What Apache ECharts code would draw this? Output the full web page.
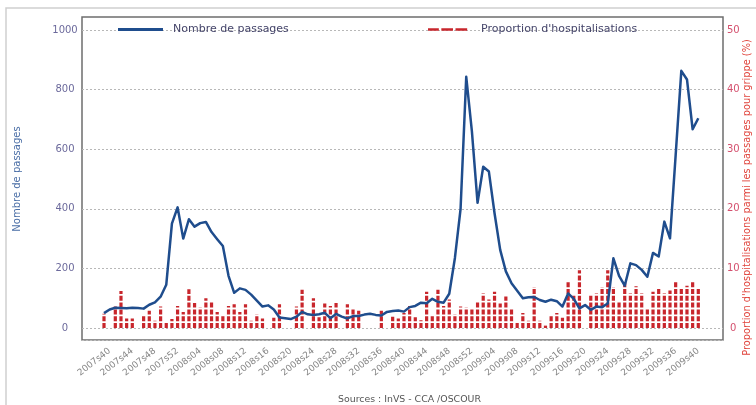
<!DOCTYPE html>
<html>
<head>
<meta charset="utf-8">
<script src="https://cdn.jsdelivr.net/npm/echarts@6/dist/echarts.min.js"></script>
<style>
  html, body { margin: 0; padding: 0; background: #fff; overflow: hidden; }
  #chart { width: 756px; height: 405px; }
</style>
</head>
<body>
<div id="chart"></div>
<script>
// Weekly emergency visits for influenza (OSCOUR network), 2007s39 – 2009s40
const weekSpans = [
  { year: 2007, from: 39, to: 52 },
  { year: 2008, from: 1, to: 52 },
  { year: 2009, from: 1, to: 40 }
];
const weeks = [];
weekSpans.forEach(s => {
  for (let w = s.from; w <= s.to; w++) {
    weeks.push(s.year + 's' + (w < 10 ? '0' + w : w));
  }
});

// Nombre de passages (left axis)
const passages = [
  50, 62, 68, 67, 66, 68, 67, 65, 78, 86,
  105, 145, 350, 405, 300, 365, 340, 352, 356, 322,
  298, 275, 175, 118, 133, 128, 112, 92, 72, 76,
  62, 35, 33, 30, 38, 54, 46, 44, 46, 51,
  33, 47, 38, 32, 40, 40, 45, 48, 44, 42,
  54, 57, 59, 55, 70, 74, 85, 83, 98, 88,
  85, 115, 235, 400, 843, 660, 420, 541, 525, 385,
  262, 190, 150, 125, 100, 103, 104, 94, 88, 95,
  90, 72, 116, 98, 66, 77, 61, 72, 70, 82,
  234, 175, 142, 217, 211, 195, 172, 252, 240, 357,
  301, 580, 863, 834, 667, 704
];

// Proportion d'hospitalisations parmi les passages (%), right axis
const hospit = [
  2.4, 0, 3.6, 6.2, 1.6, 1.6, 0, 2.2, 2.9, 1.2,
  3.6, 1.0, 1.5, 3.7, 2.7, 6.5, 4.2, 3.5, 5.0, 4.3,
  2.7, 2.0, 3.7, 4.0, 2.7, 4.0, 1.2, 2.3, 1.6, 0,
  1.7, 4.0, 0, 0, 3.6, 6.4, 0, 5.0, 1.8, 4.1,
  3.7, 4.2, 0, 4.0, 3.1, 2.9, 0, 0, 0, 2.9,
  0, 1.9, 1.6, 2.5, 3.7, 1.8, 1.3, 6.1, 2.2, 6.4,
  3.7, 4.8, 2.3, 3.6, 3.5, 3.3, 4.4, 5.8, 4.8, 6.1,
  4.1, 5.3, 3.1, 1.1, 2.5, 1.2, 6.9, 1.2, 0.4, 2.2,
  2.5, 1.7, 7.8, 5.5, 9.7, 0, 5.6, 5.8, 6.9, 9.7,
  6.9, 4.4, 7.8, 5.8, 7.0, 5.8, 3.1, 6.1, 6.7, 5.8,
  6.3, 7.7, 6.8, 7.1, 7.8, 6.8
];

const leftTicks = { min: 0, max: 1000, interval: 200 };
const rightTicks = { min: 0, max: 50, interval: 10 };

const FONT = 'DejaVu Sans';
const BLUE = '#1f4d8d';
const RED = '#c8262c';

const chart = echarts.init(document.getElementById('chart'), null, { renderer: 'canvas', width: 756, height: 405 });

chart.setOption({
  animation: false,
  backgroundColor: '#ffffff',
  textStyle: { fontFamily: FONT },
  title: {
    text: 'Sources : InVS - CCA /OSCOUR',
    left: 333, top: 390,
    textStyle: { fontFamily: FONT, fontSize: 9.4, fontWeight: 'normal', color: '#555' }
  },
  graphic: [{
    type: 'rect', silent: true, z: -10,
    shape: { x: 6, y: 8, width: 800, height: 500 },
    style: { fill: 'none', stroke: '#cfcfcf', lineWidth: 1.5 }
  }],
  legend: [{
    left: 113, top: 19,
    itemWidth: 45, itemHeight: 3,
    data: [{ name: 'Nombre de passages', icon: 'path://M0,0H45V3H0Z' }],
    textStyle: { fontFamily: FONT, fontSize: 11, color: '#45456a', padding: [0, 0, 0, 5] }
  }, {
    left: 423, top: 19,
    itemWidth: 47, itemHeight: 2.5,
    data: [{ name: "Proportion d'hospitalisations", icon: 'path://M0,0H13V3H0Z M16,0H30V3H16Z M33,0H47V3H33Z' }],
    textStyle: { fontFamily: FONT, fontSize: 11, color: '#45456a', padding: [0, 0, 0, 5] }
  }],
  grid: [
    { left: 104, right: 57.7, top: 30, bottom: 77, outerBoundsMode: 'none' },   // data
    { left: 82, right: 33, top: 30, bottom: 77, outerBoundsMode: 'none' },      // horizontal guides
    { left: 82, right: 33, top: 17, bottom: 65, outerBoundsMode: 'none',        // frame
      show: true, borderColor: '#6e6e6e', borderWidth: 1.5 }
  ],
  xAxis: [{
    gridIndex: 0, type: 'category', data: weeks, boundaryGap: false,
    offset: 17,
    axisLine: { show: false }, axisTick: { show: false }, splitLine: { show: false },
    axisLabel: {
      interval: (i) => i % 4 === 1,
      rotate: 38, margin: 5,
      fontFamily: FONT, fontSize: 9, color: '#858585'
    }
  }, {
    gridIndex: 1, type: 'value', show: false
  }, {
    gridIndex: 2, type: 'value', min: 0, max: 1, offset: 5,
    axisLine: { show: true, lineStyle: { color: '#bdbdbd', width: 1, type: [2, 2] } },
    axisTick: { show: false }, axisLabel: { show: false }, splitLine: { show: false }
  }],
  yAxis: [{
    gridIndex: 0, type: 'value', position: 'left',
    min: leftTicks.min, max: leftTicks.max, interval: leftTicks.interval,
    name: 'Nombre de passages', nameLocation: 'middle', nameGap: 82,
    nameMoveOverlap: false,
    nameTextStyle: { fontFamily: FONT, fontSize: 10, color: '#4a6ea6' },
    axisLine: { show: false }, axisTick: { show: false }, splitLine: { show: false },
    axisLabel: {
      margin: 39, align: 'center', formatter: (v) => String(v),
      fontFamily: FONT, fontSize: 10, color: '#6c6a9c'
    }
  }, {
    gridIndex: 0, type: 'value', position: 'right',
    min: rightTicks.min, max: rightTicks.max, interval: rightTicks.interval,
    name: "Proportion d'hospitalisations parmi les passages pour grippe (%)",
    nameLocation: 'middle', nameGap: 44, nameRotate: 90,
    nameMoveOverlap: false,
    nameTextStyle: { fontFamily: FONT, fontSize: 9.8, color: '#e0443c', padding: [0, 37, 0, 0] },
    axisLine: { show: false }, axisTick: { show: false }, splitLine: { show: false },
    axisLabel: {
      margin: 35, align: 'center', formatter: (v) => String(v),
      fontFamily: FONT, fontSize: 10, color: '#d4506e'
    }
  }, {
    gridIndex: 1, type: 'value',
    min: leftTicks.min, max: leftTicks.max, interval: leftTicks.interval,
    axisLine: { show: false }, axisTick: { show: false }, axisLabel: { show: false },
    splitLine: { show: true, lineStyle: { color: '#b8b8b8', width: 1, type: [2, 2] } }
  }, {
    gridIndex: 2, type: 'value', show: false
  }],
  series: [{
    name: "Proportion d'hospitalisations",
    type: 'custom',
    xAxisIndex: 0, yAxisIndex: 1,
    itemStyle: { color: RED },
    data: hospit.map((v, i) => [i, v]),
    encode: { x: 0, y: 1 },
    renderItem: (params, api) => {
      const v = api.value(1);
      if (!v) return null;
      const base = api.coord([api.value(0), 0]);
      const top = api.coord([api.value(0), v]);
      return {
        type: 'line',
        shape: { x1: base[0], y1: base[1], x2: top[0], y2: top[1] },
        style: { stroke: RED, lineWidth: 3.2, lineDash: [5, 1.8] }
      };
    },
    z: 2
  }, {
    name: 'Nombre de passages',
    type: 'line',
    xAxisIndex: 0, yAxisIndex: 0,
    data: passages,
    symbol: 'none',
    lineStyle: { color: BLUE, width: 2.5, join: 'round' },
    itemStyle: { color: BLUE },
    z: 3
  }]
});
</script>
</body>
</html>
